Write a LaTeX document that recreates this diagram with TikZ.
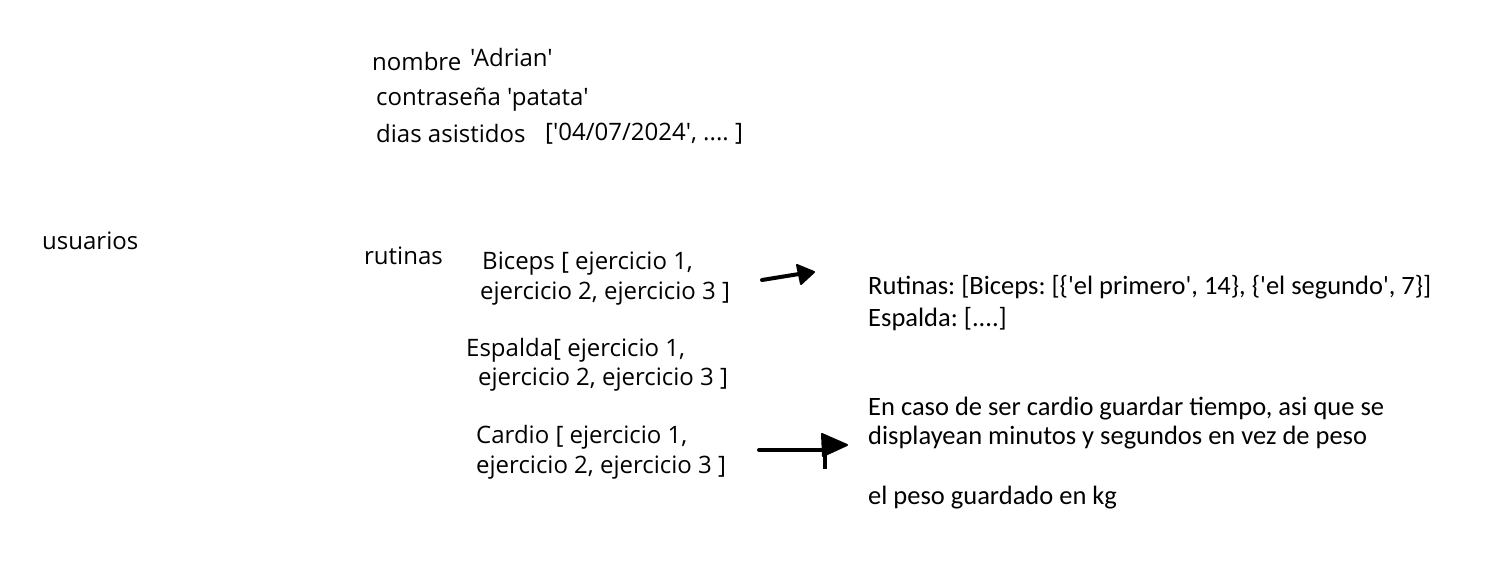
\documentclass[tikz,border=0pt]{standalone}
\usepackage{fontspec}
\newfontfamily\tahfont{Open Sans}
\newfontfamily\calfont{Carlito}
\frenchspacing
\begin{document}
\begin{tikzpicture}[x=1pt,y=-1pt,
  lbl/.style={anchor=base west,inner sep=0pt,font=\tahfont\fontsize{24}{28}\selectfont},
  rlbl/.style={anchor=base west,inner sep=0pt,font=\calfont\fontsize{26.5}{30}\selectfont},
  pen/.style={line width=4pt,line cap=round,line join=round}]
\useasboundingbox (0,0) rectangle (1501,565);
\fill[white] (0,0) rectangle (1501,565);
\node[lbl] (nombre) at (372,70) {nombre};
\node[lbl] (adrian) at (470,66) {'Adrian'};
\node[lbl] (pass) at (376,105) {contraseña 'patata'};
\node[lbl] (dias) at (376,142) {dias asistidos};
\node[lbl] (fechas) at (545,140) {['04/07/2024', .... ]};
\node[lbl] (usuarios) at (42,249) {usuarios};
\node[lbl] (rutinas) at (364,264) {rutinas};
\node[lbl] (bic1) at (482,269) {Biceps [ ejercicio 1,};
\node[lbl] (bic2) at (480,299) {ejercicio 2, ejercicio 3 ]};
\node[lbl] (esp1) at (466,356) {Espalda[ ejercicio 1,};
\node[lbl] (esp2) at (478,385) {ejercicio 2, ejercicio 3 ]};
\node[lbl] (car1) at (476,443) {Cardio [ ejercicio 1,};
\node[lbl] (car2) at (476,473) {ejercicio 2, ejercicio 3 ]};
\node[rlbl] (rut) at (868,294) {Rutinas: [Biceps: [\{'el primero', 14\}, \{'el segundo', 7\}]};
\node[rlbl] (espr) at (868,326) {Espalda: [....]};
\node[rlbl] (caso1) at (868,415) {En caso de ser cardio guardar tiempo, asi que se};
\node[rlbl] (caso2) at (868,444) {displayean minutos y segundos en vez de peso};
\node[rlbl] (kg) at (868,504) {el peso guardado en kg};
% arrow 1
\coordinate (a1s) at (762,280);
\coordinate (a1e) at (799,274);
\draw[pen] (a1s) -- (a1e);
\fill[line join=round,draw,line width=2pt] (797,265) -- (814,272) -- (801,284) -- cycle;
% arrow 2
\coordinate (a2s) at (759,450);
\coordinate (a2e) at (823,450);
\draw[pen] (a2s) -- (a2e);
\fill[line join=round,draw,line width=2pt] (822,434) -- (847,445) -- (823,456) -- cycle;
\draw[line width=4pt] (825,452) -- (825,469);
\end{tikzpicture}
\end{document}
